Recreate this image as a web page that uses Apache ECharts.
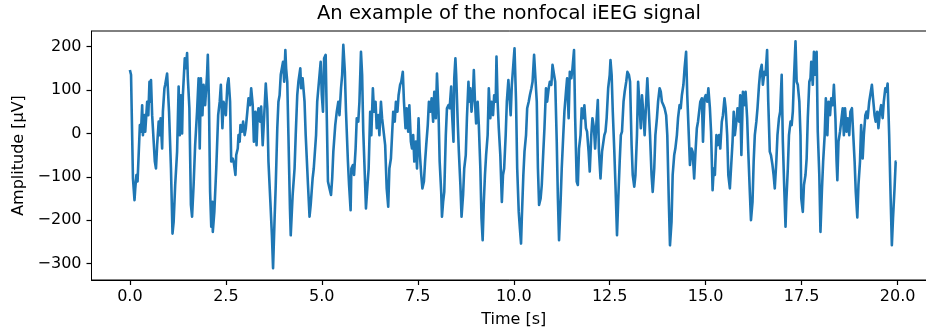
<!DOCTYPE html>
<html>
<head>
<meta charset="utf-8">
<script src="https://cdn.jsdelivr.net/npm/echarts@6/dist/echarts.min.js"></script>
<style>
  html, body { margin: 0; padding: 0; background: #fff; }
  #chart { width: 926px; height: 336px; }
</style>
</head>
<body>
<div id="chart"></div>
<script>
// signal, [time in s, amplitude in µV]
const seg0 = [[0.00,146],[0.03,135],[0.08,-104],[0.12,-154],[0.14,-127],[0.17,-96],[0.20,-111],[0.26,19],[0.29,4],[0.32,65],[0.34,-4],[0.38,42],[0.40,4],[0.45,73],[0.48,42],[0.51,119],[0.53,73],[0.55,123],[0.58,42],[0.62,-19],[0.65,-65],[0.68,-81],[0.71,-27],[0.75,27],[0.78,-4],[0.80,35],[0.84,-35],[0.86,50],[0.90,104],[0.92,112],[0.97,138],[0.99,135],[1.02,50],[1.07,-81],[1.11,-231],[1.14,-204],[1.18,-119],[1.23,-42],[1.27,108],[1.30,-4],[1.33,88],[1.36,0],[1.38,88],[1.43,173],[1.46,150],[1.49,185],[1.51,127],[1.55,58],[1.59,-165],[1.62,-192],[1.66,-119],[1.70,-27],[1.75,50],[1.79,127],[1.82,-35],[1.85,127],[1.89,42],[1.92,112],[1.96,65],[2.01,135],[2.03,181],[2.06,73],[2.09,-135],[2.12,-215],[2.15,-158],[2.16,-227],[2.20,-181],[2.25,-81],[2.30,42],[2.34,73],[2.37,112],[2.41,12],[2.44,73]];
const seg1 = [[2.47,73],[2.50,42],[2.54,112],[2.57,127],[2.61,73],[2.64,-65],[2.68,-58],[2.71,-69],[2.75,-96],[2.77,-50],[2.81,-35],[2.83,-4],[2.86,-19],[2.88,19],[2.92,4],[2.95,27],[2.99,-4],[3.02,12],[3.06,50],[3.09,81],[3.13,65],[3.16,104],[3.20,65],[3.23,-19],[3.27,50],[3.30,-27],[3.33,42],[3.35,58],[3.39,27],[3.42,62],[3.46,-27],[3.50,42],[3.54,115],[3.58,58],[3.61,-65],[3.66,-158],[3.70,-235],[3.73,-311],[3.77,-196],[3.80,-119],[3.84,12],[3.87,73],[3.90,88],[3.93,135],[3.96,135],[3.99,165],[4.02,119],[4.05,192],[4.07,150],[4.10,119],[4.13,-4],[4.17,-173],[4.19,-235],[4.24,-142],[4.29,-81],[4.32,-4],[4.36,88],[4.39,119],[4.44,150],[4.46,104],[4.50,127],[4.55,73],[4.58,-4],[4.64,-119],[4.68,-192],[4.71,-165],[4.76,-104],[4.79,-81],[4.85,-4],[4.88,73],[4.91,104]];
const seg2 = [[4.94,104],[4.97,165],[5.00,88],[5.03,50],[5.06,173],[5.10,181],[5.13,35],[5.16,-111],[5.20,-127],[5.24,-142],[5.27,-104],[5.30,-42],[5.35,19],[5.39,50],[5.43,73],[5.46,42],[5.50,104],[5.53,135],[5.56,204],[5.60,142],[5.63,50],[5.68,-65],[5.71,-119],[5.75,-177],[5.77,-81],[5.81,-73],[5.84,-96],[5.88,-35],[5.91,35],[5.95,27],[5.98,73],[6.02,188],[6.05,135],[6.08,4],[6.12,-96],[6.15,-173],[6.19,-119],[6.22,-81],[6.26,50],[6.29,-4],[6.33,104],[6.36,50],[6.40,73],[6.43,12],[6.47,42],[6.50,-4],[6.54,73],[6.57,35],[6.60,12],[6.65,-27],[6.69,-127],[6.73,-169],[6.76,-81],[6.80,-58],[6.83,-4],[6.86,50],[6.90,27],[6.93,73],[6.97,50],[7.00,88],[7.04,112],[7.07,119],[7.11,142],[7.14,73],[7.18,12],[7.21,58],[7.25,4],[7.28,65],[7.32,-19],[7.35,-35],[7.38,-4],[7.41,-65]];
const seg3 = [[7.45,-19],[7.48,-81],[7.52,35],[7.55,-42],[7.59,-96],[7.62,-127],[7.66,-111],[7.69,-65],[7.72,-27],[7.76,19],[7.79,73],[7.83,50],[7.86,81],[7.90,27],[7.93,96],[7.97,35],[8.00,138],[8.04,50],[8.07,-65],[8.11,-135],[8.13,-192],[8.16,-158],[8.19,-135],[8.23,-4],[8.26,58],[8.30,65],[8.33,58],[8.37,108],[8.39,50],[8.43,-19],[8.45,127],[8.48,173],[8.50,135],[8.54,27],[8.57,-42],[8.61,-119],[8.64,-192],[8.68,-142],[8.71,-81],[8.75,-50],[8.78,35],[8.82,119],[8.84,73],[8.87,104],[8.90,50],[8.94,96],[8.96,146],[8.99,73],[9.02,23],[9.06,73],[9.09,19],[9.13,-81],[9.16,-196],[9.19,-246],[9.22,-158],[9.25,-96],[9.28,-50],[9.32,-4],[9.35,104],[9.39,35],[9.42,73],[9.46,42],[9.49,88],[9.53,73],[9.55,177],[9.58,73],[9.61,12],[9.65,-50],[9.69,-158],[9.72,-96],[9.75,-81],[9.79,-4],[9.82,73],[9.86,123]];
const seg4 = [[9.92,42],[9.95,112],[9.99,112],[10.02,196],[10.06,73],[10.09,-81],[10.13,-181],[10.16,-219],[10.19,-254],[10.21,-196],[10.25,-96],[10.28,-42],[10.32,-4],[10.35,58],[10.39,73],[10.42,88],[10.46,104],[10.49,119],[10.53,181],[10.56,181],[10.60,73],[10.63,-81],[10.66,-165],[10.70,-150],[10.73,-119],[10.77,-42],[10.80,12],[10.84,104],[10.87,73],[10.91,104],[10.94,119],[10.98,112],[11.01,158],[11.05,135],[11.08,119],[11.12,-19],[11.15,-150],[11.18,-246],[11.22,-158],[11.25,-81],[11.29,-4],[11.32,50],[11.36,96],[11.39,127],[11.43,35],[11.46,142],[11.50,127],[11.53,150],[11.57,192],[11.60,35],[11.64,-111],[11.67,-119],[11.70,-35],[11.74,-4],[11.77,58],[11.81,35],[11.84,65],[11.88,12],[11.91,4],[11.95,-42],[11.98,-88],[12.02,-4],[12.05,35],[12.09,12],[12.12,-35],[12.16,35],[12.19,77],[12.22,-42],[12.26,-104],[12.30,-42]];
const seg5 = [[12.36,-4],[12.39,4],[12.42,35],[12.46,104],[12.50,135],[12.52,169],[12.55,135],[12.58,50],[12.62,-42],[12.65,-119],[12.69,-235],[12.72,-158],[12.76,-65],[12.79,-4],[12.82,4],[12.86,73],[12.89,96],[12.93,119],[12.96,142],[13.00,135],[13.03,119],[13.07,-27],[13.10,-96],[13.14,-123],[13.17,-96],[13.21,-4],[13.24,119],[13.28,58],[13.31,12],[13.34,88],[13.38,42],[13.41,-4],[13.45,73],[13.48,127],[13.52,50],[13.55,-4],[13.59,-96],[13.62,-135],[13.66,-81],[13.69,-4],[13.73,35],[13.76,73],[13.80,104],[13.83,96],[13.86,73],[13.90,65],[13.93,58],[13.97,42],[14.00,-4],[14.04,-158],[14.07,-258],[14.11,-204],[14.14,-96],[14.18,-50],[14.21,-35],[14.25,-4],[14.28,35],[14.32,65],[14.35,58],[14.38,88],[14.42,112],[14.45,150],[14.49,188],[14.52,88],[14.56,-4],[14.59,-73],[14.63,-35],[14.66,-42],[14.70,-104],[14.73,-50],[14.77,12],[14.80,27]];
const seg6 = [[14.86,73],[14.90,81],[14.93,-19],[14.97,81],[15.00,88],[15.04,73],[15.07,104],[15.11,58],[15.14,4],[15.18,-131],[15.21,-81],[15.24,-96],[15.28,-4],[15.31,-27],[15.35,-4],[15.38,-35],[15.42,27],[15.45,42],[15.49,81],[15.52,58],[15.56,-4],[15.59,-96],[15.63,-127],[15.66,-81],[15.70,-19],[15.73,50],[15.76,-4],[15.80,27],[15.83,58],[15.87,27],[15.90,88],[15.93,-50],[15.97,96],[16.01,65],[16.04,96],[16.08,35],[16.11,-42],[16.15,-135],[16.18,-200],[16.22,-158],[16.25,-65],[16.28,-4],[16.32,27],[16.35,58],[16.39,112],[16.42,142],[16.46,158],[16.49,112],[16.53,142],[16.56,135],[16.60,192],[16.63,73],[16.67,-42],[16.70,-50],[16.74,-73],[16.77,-96],[16.80,-127],[16.84,-65],[16.87,-4],[16.91,35],[16.94,50],[16.98,135],[17.01,-19],[17.05,-135],[17.08,-215],[17.10,-158],[17.14,-81],[17.17,-4],[17.21,27],[17.24,19],[17.27,50]];
const seg7 = [[17.30,127],[17.34,212],[17.37,119],[17.40,112],[17.44,73],[17.47,-4],[17.49,-150],[17.53,-181],[17.56,-119],[17.60,-96],[17.63,-58],[17.66,35],[17.70,119],[17.73,127],[17.75,165],[17.79,112],[17.82,188],[17.86,135],[17.89,188],[17.92,4],[17.96,-96],[17.99,-227],[18.03,-127],[18.06,-65],[18.10,-4],[18.13,81],[18.17,-4],[18.20,73],[18.24,42],[18.27,81],[18.31,65],[18.34,112],[18.38,35],[18.41,-65],[18.43,-108],[18.46,-19],[18.50,4],[18.53,27],[18.57,58],[18.60,-4],[18.63,58],[18.67,4],[18.70,35],[18.74,-4],[18.77,50],[18.81,58],[18.84,4],[18.88,-65],[18.91,-135],[18.95,-194],[18.98,-119],[19.02,-65],[19.05,19],[19.09,-58],[19.12,-4],[19.16,42],[19.19,50],[19.22,35],[19.26,73],[19.29,73],[19.33,112],[19.36,81],[19.40,42],[19.43,27],[19.47,50],[19.50,12],[19.54,50],[19.57,65],[19.61,35],[19.64,73],[19.68,104],[19.71,96],[19.74,115],[19.78,-4],[19.81,-119],[19.85,-258],[19.88,-196],[19.92,-127],[19.95,-65],[19.97,-65]];

const xTicks = [0, 2.5, 5, 7.5, 10, 12.5, 15, 17.5, 20];
const yTicks = [-300, -200, -100, 0, 100, 200];

const signal = [].concat(seg0, seg1, seg2, seg3, seg4, seg5, seg6, seg7);

const font = 'DejaVu Sans';
const ink = '#000';

const chart = echarts.init(document.getElementById('chart'));
chart.setOption({
  animation: false,
  title: {
    text: 'An example of the nonfocal iEEG signal',
    left: 317,
    top: 4,
    padding: 0,
    textStyle: { fontFamily: font, fontSize: 19.5, fontWeight: 'normal', color: ink }
  },
  grid: {
    left: 91.5,
    right: -10,
    top: 31,
    bottom: 56,
    show: true,
    borderColor: ink,
    borderWidth: 1,
    backgroundColor: 'transparent',
    outerBoundsMode: 'none'
  },
  xAxis: {
    type: 'value',
    min: -1,
    max: 21,
    name: 'Time [s]',
    nameLocation: 'middle',
    nameGap: 32,
    nameTextStyle: { fontFamily: font, fontSize: 16, color: ink },
    axisLine: { onZero: false, lineStyle: { color: ink, width: 1 } },
    axisTick: { customValues: xTicks, length: 5, lineStyle: { color: ink, width: 1.2 } },
    axisLabel: {
      customValues: xTicks,
      margin: 9,
      fontFamily: font,
      fontSize: 16,
      color: ink,
      formatter: v => v.toFixed(1)
    },
    splitLine: { show: false }
  },
  yAxis: {
    type: 'value',
    min: -338,
    max: 236,
    name: 'Amplitude [µV]',
    nameLocation: 'middle',
    nameGap: 64,
    nameTextStyle: { fontFamily: font, fontSize: 16, color: ink },
    axisLine: { show: true, onZero: false, lineStyle: { color: ink, width: 1 } },
    axisTick: { show: true, customValues: yTicks, length: 5, lineStyle: { color: ink, width: 1.2 } },
    axisLabel: {
      customValues: yTicks,
      margin: 10,
      fontFamily: font,
      fontSize: 16,
      color: ink,
      formatter: v => (v < 0 ? '\u2212' + (-v) : String(v))
    },
    splitLine: { show: false }
  },
  series: [
    {
      type: 'line',
      data: signal,
      showSymbol: false,
      sampling: 'none',
      lineStyle: { color: '#1f77b4', width: 2.6, join: 'round' },
      clip: true
    }
  ]
});
</script>
</body>
</html>
